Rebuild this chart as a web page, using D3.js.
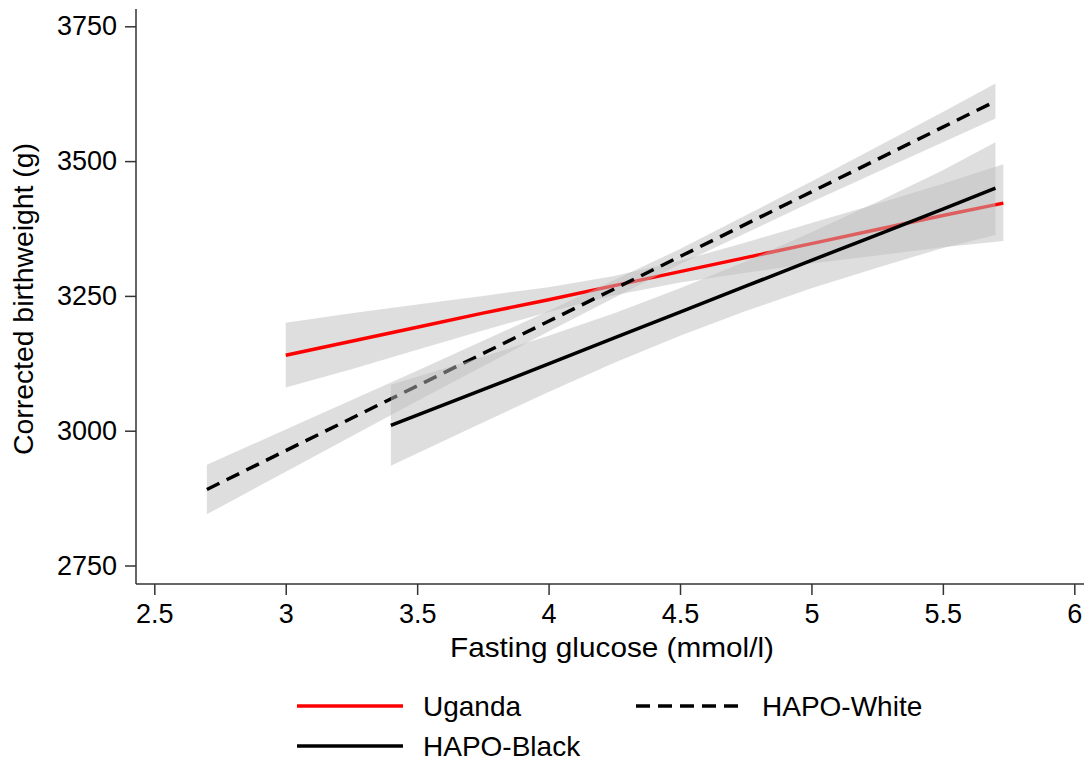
<!DOCTYPE html>
<html>
<head>
<meta charset="utf-8">
<script src="https://cdn.jsdelivr.net/npm/d3@7"></script>
<style>
  html, body { margin: 0; padding: 0; background: #fff; }
  svg { display: block; font-family: "Liberation Sans", Arial, Helvetica, sans-serif; }
</style>
</head>
<body>
<svg id="chart" width="1084" height="762"></svg>
<script>
// ---- Data ----
const xTicks = [2.5, 3, 3.5, 4, 4.5, 5, 5.5, 6];
const xTickLabels = ["2.5", "3", "3.5", "4", "4.5", "5", "5.5", "6"];
const yTicks = [2750, 3000, 3250, 3500, 3750];
const yTickLabels = ["2750", "3000", "3250", "3500", "3750"];

const ugandaX     = [3, 3.25, 3.5, 3.75, 4, 4.25, 4.5, 4.75, 5, 5.25, 5.5, 5.73];
const ugandaFit   = [3140, 3166, 3192, 3218, 3243, 3269, 3295, 3321, 3347, 3373, 3399, 3422];
const ugandaUpper = [3200, 3218, 3234, 3250, 3266, 3287, 3315, 3349, 3385, 3421, 3458, 3494];
const ugandaLower = [3080, 3114, 3150, 3186, 3220, 3251, 3275, 3293, 3310, 3325, 3340, 3352];

const whiteX     = [2.7, 3, 3.5, 4, 4.5, 5, 5.5, 5.7];
const whiteFit   = [2891, 2963, 3083, 3203, 3323, 3443, 3563, 3611];
const whiteUpper = [2937, 3002, 3111, 3222, 3337, 3462, 3591, 3644];
const whiteLower = [2845, 2924, 3055, 3184, 3309, 3424, 3535, 3579];

const blackX     = [3.4, 3.75, 4, 4.25, 4.5, 4.75, 5, 5.25, 5.5, 5.7];
const blackFit   = [3010, 3076, 3124, 3172, 3220, 3268, 3316, 3363, 3411, 3450];
const blackUpper = [3085, 3137, 3176, 3218, 3264, 3314, 3368, 3424, 3483, 3535];
const blackLower = [2935, 3015, 3072, 3126, 3176, 3222, 3264, 3302, 3339, 3363];

const seriesNames = ["Uganda", "HAPO-White", "HAPO-Black"];

// ---- Layout ----
const svg = d3.select("#chart");
const axisColor = "#333";
const plotLeft = 136, plotRight = 1084, plotTop = 9, plotBottom = 584;

const x = d3.scaleLinear().domain([2.5, 6]).range([154.3, 1074.3]);
const y = d3.scaleLinear().domain([2750, 3750]).range([565.5, 26.3]);

function series(xs, fit, lo, hi) {
  return xs.map((v, i) => ({ x: v, fit: fit[i], lo: lo[i], hi: hi[i] }));
}
const data = [
  { name: seriesNames[0], color: "#ff0000", dash: null, pts: series(ugandaX, ugandaFit, ugandaLower, ugandaUpper) },
  { name: seriesNames[1], color: "#000000", dash: "14,8", pts: series(whiteX, whiteFit, whiteLower, whiteUpper) },
  { name: seriesNames[2], color: "#000000", dash: null, pts: series(blackX, blackFit, blackLower, blackUpper) }
];

const area = d3.area().x(d => x(d.x)).y0(d => y(d.lo)).y1(d => y(d.hi));
const line = d3.line().x(d => x(d.x)).y(d => y(d.fit));

const gPlot = svg.append("g");
data.forEach(s => {
  gPlot.append("path").datum(s.pts)
    .attr("d", area)
    .attr("fill", "#bdbdbd")
    .attr("fill-opacity", 0.5)
    .attr("stroke", "none");
  gPlot.append("path").datum(s.pts)
    .attr("d", line)
    .attr("fill", "none")
    .attr("stroke", s.color)
    .attr("stroke-width", 3.5)
    .attr("stroke-dasharray", s.dash);
});

// ---- Axes ----
const xAxis = d3.axisBottom(x).tickValues(xTicks)
  .tickFormat((d, i) => xTickLabels[i]).tickSize(11).tickPadding(9);
const gx = svg.append("g").attr("transform", `translate(0,${plotBottom})`).call(xAxis);
gx.select(".domain").remove();
gx.selectAll(".tick line").attr("stroke", axisColor).attr("stroke-width", 1.5);
gx.selectAll(".tick text").attr("fill", "#000").style("font-size", "27px")
  .style("font-family", '"Liberation Sans", Arial, sans-serif');

const yAxis = d3.axisLeft(y).tickValues(yTicks)
  .tickFormat((d, i) => yTickLabels[i]).tickSize(11).tickPadding(8);
const gy = svg.append("g").attr("transform", `translate(${plotLeft},0)`).call(yAxis);
gy.select(".domain").remove();
gy.selectAll(".tick line").attr("stroke", axisColor).attr("stroke-width", 1.5);
gy.selectAll(".tick text").attr("fill", "#000").style("font-size", "27px")
  .style("font-family", '"Liberation Sans", Arial, sans-serif');

svg.append("line").attr("x1", plotLeft).attr("x2", plotRight)
  .attr("y1", plotBottom).attr("y2", plotBottom)
  .attr("stroke", axisColor).attr("stroke-width", 1.5);
svg.append("line").attr("x1", plotLeft).attr("x2", plotLeft)
  .attr("y1", plotTop).attr("y2", plotBottom)
  .attr("stroke", axisColor).attr("stroke-width", 1.5);

// ---- Axis titles ----
svg.append("text")
  .attr("x", 612).attr("y", 657)
  .attr("text-anchor", "middle")
  .style("font-size", "28px")
  .attr("textLength", 324).attr("lengthAdjust", "spacingAndGlyphs")
  .text("Fasting glucose (mmol/l)");

svg.append("text")
  .attr("transform", "translate(33,299) rotate(-90)")
  .attr("text-anchor", "middle")
  .style("font-size", "28px")
  .attr("textLength", 312).attr("lengthAdjust", "spacingAndGlyphs")
  .text("Corrected birthweight (g)");

// ---- Legend ----
const legendItems = [
  { s: data[0], lx: 297, ly: 706 },
  { s: data[1], lx: 636, ly: 706 },
  { s: data[2], lx: 297, ly: 746 }
];
const gLeg = svg.append("g");
legendItems.forEach(it => {
  gLeg.append("line")
    .attr("x1", it.lx).attr("x2", it.lx + 106)
    .attr("y1", it.ly).attr("y2", it.ly)
    .attr("stroke", it.s.color).attr("stroke-width", 3.5)
    .attr("stroke-dasharray", it.s.dash);
  gLeg.append("text")
    .attr("x", it.lx + 126).attr("y", it.ly)
    .attr("dy", "0.36em")
    .style("font-size", "28px")
    .text(it.s.name);
});
</script>
</body>
</html>
